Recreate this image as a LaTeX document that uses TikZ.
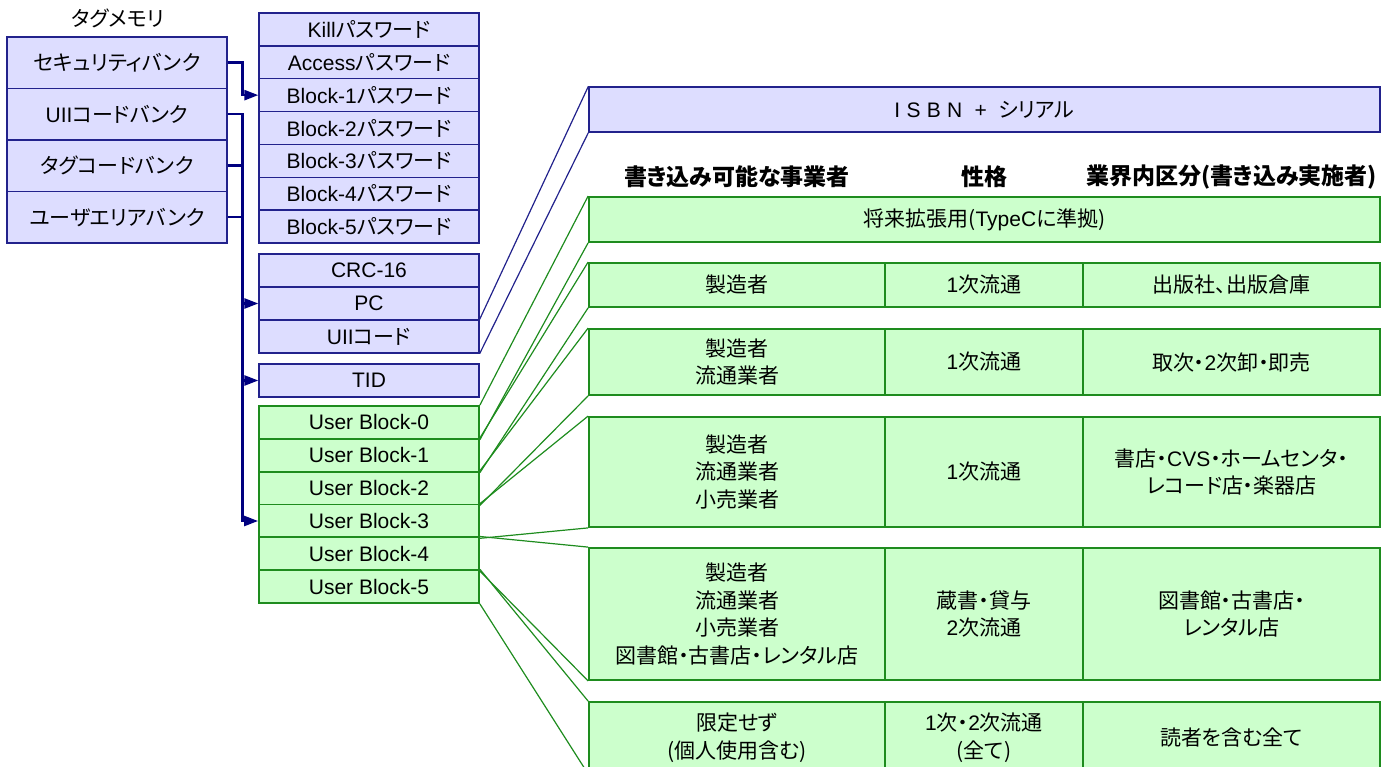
\documentclass[tikz,border=0pt]{standalone}
\usepackage{fontspec}
\setmainfont{Noto Sans CJK JP}[RawFeature=+palt]
\newfontfamily\latf{Liberation Sans}
\newcommand\lt[1]{{\latf #1}}
\usetikzlibrary{arrows.meta}
\definecolor{bfill}{HTML}{DDDDFF}
\definecolor{bline}{HTML}{22228C}
\definecolor{navy}{HTML}{000080}
\definecolor{gfill}{HTML}{CCFFCC}
\definecolor{gline}{HTML}{1E8C1E}
\begin{document}
\begin{tikzpicture}[x=1pt,y=-1pt,
  every node/.style={font=\fontsize{21}{27.5}\selectfont, inner sep=0pt, align=center},
  bcell/.style={draw=bline, fill=bfill, line width=1.3pt, minimum width=220pt},
  gcell/.style={draw=gline, fill=gfill, line width=1.8pt},
  conn/.style={draw=navy, line width=2.5pt, -{Triangle[length=14pt,width=10pt]}},
  bfan/.style={draw=bline, line width=1.2pt},
  gfan/.style={draw=gline, line width=1.2pt},
  hdr/.style={font=\fontsize{23}{27}\selectfont\bfseries},
  wa/.style={minimum width=296pt},
  wb/.style={minimum width=198pt},
  wc/.style={minimum width=297pt}
]
\useasboundingbox (0,0) rectangle (1388,767);

% left memory banks
\node (title) at (118,18) {タグメモリ};
\node[bcell, minimum height=51.5pt] (sec)   at (117,62.75)  {セキュリティバンク};
\node[bcell, minimum height=51.5pt] (uiib)  at (117,114.25) {\lt{UII}コードバンク};
\node[bcell, minimum height=51.5pt] (tagb)  at (117,165.75) {タグコードバンク};
\node[bcell, minimum height=51.5pt] (userb) at (117,217.25) {ユーザエリアバンク};

% password block
\node[bcell, minimum height=32.857pt] (pwk) at (369,29.43)  {\lt{Kill}パスワード};
\node[bcell, minimum height=32.857pt] (pwa) at (369,62.29)  {\lt{Access}パスワード};
\node[bcell, minimum height=32.857pt] (pw1) at (369,95.14)  {\lt{Block-1}パスワード};
\node[bcell, minimum height=32.857pt] (pw2) at (369,128.0)  {\lt{Block-2}パスワード};
\node[bcell, minimum height=32.857pt] (pw3) at (369,160.86) {\lt{Block-3}パスワード};
\node[bcell, minimum height=32.857pt] (pw4) at (369,193.71) {\lt{Block-4}パスワード};
\node[bcell, minimum height=32.857pt] (pw5) at (369,226.57) {\lt{Block-5}パスワード};

% UII block
\node[bcell, minimum height=33pt] (crc) at (369,270.5) {\lt{CRC-16}};
\node[bcell, minimum height=33pt] (pc)  at (369,303.5) {\lt{PC}};
\node[bcell, minimum height=33pt] (uii) at (369,336.5) {\lt{UII}コード};

% TID
\node[bcell, minimum height=33pt] (tid) at (369,380.5) {\lt{TID}};

% user blocks
\node[gcell, minimum width=220pt, minimum height=32.83pt] (ub0) at (369,422.4) {\lt{User Block-0}};
\node[gcell, minimum width=220pt, minimum height=32.83pt] (ub1) at (369,455.3) {\lt{User Block-1}};
\node[gcell, minimum width=220pt, minimum height=32.83pt] (ub2) at (369,488.1) {\lt{User Block-2}};
\node[gcell, minimum width=220pt, minimum height=32.83pt] (ub3) at (369,521.0) {\lt{User Block-3}};
\node[gcell, minimum width=220pt, minimum height=32.83pt] (ub4) at (369,553.8) {\lt{User Block-4}};
\node[gcell, minimum width=220pt, minimum height=32.83pt] (ub5) at (369,586.6) {\lt{User Block-5}};

% right side
\node[bcell, minimum width=791pt, minimum height=45pt] (isbn) at (984.5,109.5)
  {{\latf\addfontfeature{LetterSpace=30}ISBN + }シリアル};

\node[hdr] (h1) at (737,177)    {書き込み可能な事業者};
\node[hdr] (h2) at (984,177)    {性格};
\node[hdr] (h3) at (1231.5,177) {業界内区分(書き込み実施者)};

\node[gcell, minimum width=791pt, minimum height=45pt] (fut) at (984.5,219.5)
  {将来拡張用(\lt{TypeC}に準拠)};

\node[gcell, wa, minimum height=44pt] (r1a) at (737,285)    {製造者};
\node[gcell, wb, minimum height=44pt] (r1b) at (984,285)    {\lt{1}次流通};
\node[gcell, wc, minimum height=44pt] (r1c) at (1231.5,285) {出版社、出版倉庫};

\node[gcell, wa, minimum height=66pt] (r2a) at (737,362)    {製造者\\流通業者};
\node[gcell, wb, minimum height=66pt] (r2b) at (984,362)    {\lt{1}次流通};
\node[gcell, wc, minimum height=66pt] (r2c) at (1231.5,362) {取次・\lt{2}次卸・即売};

\node[gcell, wa, minimum height=110pt] (r3a) at (737,472)    {製造者\\流通業者\\小売業者};
\node[gcell, wb, minimum height=110pt] (r3b) at (984,472)    {\lt{1}次流通};
\node[gcell, wc, minimum height=110pt] (r3c) at (1231.5,472) {書店・\lt{CVS}・ホームセンタ・\\レコード店・楽器店};

\node[gcell, wa, minimum height=132pt] (r4a) at (737,614)    {製造者\\流通業者\\小売業者\\図書館・古書店・レンタル店};
\node[gcell, wb, minimum height=132pt] (r4b) at (984,614)    {蔵書・貸与\\\lt{2}次流通};
\node[gcell, wc, minimum height=132pt] (r4c) at (1231.5,614) {図書館・古書店・\\レンタル店};

\node[gcell, wa, minimum height=71pt] (r5a) at (737,737.5)    {限定せず\\(個人使用含む)};
\node[gcell, wb, minimum height=71pt] (r5b) at (984,737.5)    {\lt{1}次・\lt{2}次流通\\(全て)};
\node[gcell, wc, minimum height=71pt] (r5c) at (1231.5,737.5) {読者を含む全て};

% fan lines
\draw[bfan] (uii.north east) -- (isbn.north west);
\draw[bfan] (uii.south east) -- (isbn.south west);
\draw[gfan] (ub0.north east) -- (fut.north west);
\draw[gfan] (ub0.south east) -- (fut.south west);
\draw[gfan] (ub1.north east) -- (r1a.north west);
\draw[gfan] (ub1.south east) -- (r1a.south west);
\draw[gfan] (ub2.north east) -- (r2a.north west);
\draw[gfan] (ub2.south east) -- (r2a.south west);
\draw[gfan] (ub3.north east) -- (r3a.north west);
\draw[gfan] (ub3.south east) -- (r3a.south west);
\draw[gfan] (ub4.north east) -- (r4a.north west);
\draw[gfan] (ub4.south east) -- (r4a.south west);
\draw[gfan] (ub5.north east) -- (r5a.north west);
\draw[gfan] (ub5.south east) -- (r5a.south west);

% bank connectors
\draw[conn] (sec.east)   -- ++(15,0) |- (pw1.west);
\draw[conn] (uiib.east)  -- ++(15,0) |- (pc.west);
\draw[conn] (tagb.east)  -- ++(15,0) |- (tid.west);
\draw[conn] (userb.east) -- ++(15,0) |- (ub3.west);
\end{tikzpicture}
\end{document}
